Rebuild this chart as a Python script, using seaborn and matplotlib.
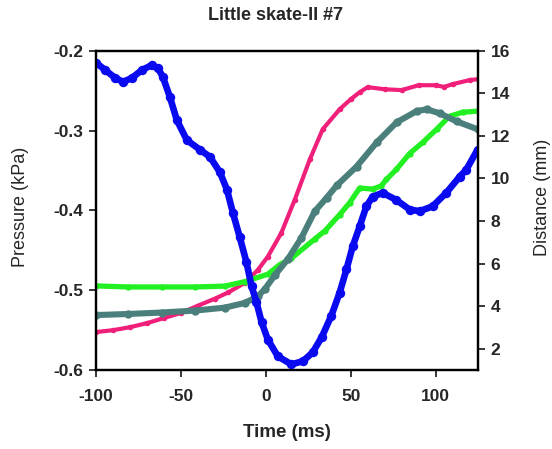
import seaborn as sns
import numpy as np
import pandas as pd
import matplotlib
matplotlib.use("Agg")
import matplotlib.pyplot as plt

# %%
title = "Little skate-II #7"

# pressure (left axis)
p_time = [-100.0, -94.7, -88.8, -84.1, -78.8, -72.9, -67.1, -63.5, -60.6, -56.5,
          -52.4, -46.5, -38.8, -32.9, -27.1, -22.9, -19.4, -15.3, -11.4, -8.4,
          -5.5, -2.5, 1.2, 7.1, 15.1, 21.8, 27.6, 32.9, 38.6, 43.5,
          47.5, 51.2, 55.3, 59.2, 62.9, 68.8, 76.9, 84.7, 90.6, 98.2,
          106.3, 114.1, 118.1, 124.7]
pressure = [-0.215, -0.224, -0.234, -0.239, -0.234, -0.224, -0.218, -0.222, -0.233, -0.258,
            -0.287, -0.312, -0.324, -0.333, -0.352, -0.374, -0.403, -0.434, -0.465, -0.495,
            -0.515, -0.540, -0.562, -0.583, -0.593, -0.589, -0.578, -0.559, -0.532, -0.503,
            -0.474, -0.445, -0.420, -0.395, -0.383, -0.378, -0.387, -0.399, -0.401, -0.395,
            -0.378, -0.358, -0.349, -0.324]

# distances (right axis)
pink_time = [-100, -90, -80, -70, -60, -50, -40, -30, -22, -12.4,
             -4.7, 1.2, 9.2, 17.1, 25.9, 33.5, 43.5, 50, 55.3, 60,
             70, 80, 90, 100, 105, 110, 120, 124.7]
pink_dist = [2.78, 2.87, 3.01, 3.20, 3.44, 3.68, 4.02, 4.35, 4.65, 5.09,
             5.70, 6.33, 7.45, 9.01, 10.89, 12.31, 13.25, 13.72, 14.05, 14.29,
             14.19, 14.15, 14.38, 14.38, 14.30, 14.43, 14.62, 14.66]

green_time = [-100, -81.2, -61.2, -41.8, -24.1, -12.4, 1.2, 8.2, 15.1, 28.8,
              35, 43.5, 49.4, 55.3, 62.9, 68, 71, 76.9, 84.7, 92.4,
              100.6, 108.2, 115.9, 124.7]
green_dist = [4.95, 4.90, 4.90, 4.90, 4.94, 5.15, 5.50, 5.95, 6.25, 7.15,
              7.55, 8.30, 8.86, 9.55, 9.50, 9.65, 9.95, 10.42, 11.17, 11.69,
              12.31, 12.92, 13.11, 13.16]

teal_time = [-100, -81.2, -61.2, -41.8, -24.1, -12.4, -4.7, -0.6, 5.3, 12.9,
             20.9, 28.8, 35.9, 41.8, 53.5, 65.3, 77.1, 88.8, 94.7, 102.4,
             112.4, 124.7]
teal_dist = [3.58, 3.63, 3.70, 3.79, 3.93, 4.15, 4.46, 4.80, 5.45, 6.20,
             7.20, 8.45, 9.10, 9.67, 10.56, 11.69, 12.64, 13.16, 13.25, 13.06,
             12.68, 12.31]

# %%
sns.set_style("ticks")
plt.rcParams["font.family"] = ["Liberation Sans", "DejaVu Sans"]
plt.rcParams["axes.unicode_minus"] = False

fig = plt.figure(figsize=(5.52, 4.49), dpi=100)
ax = fig.add_axes([0.174, 0.176, 0.692, 0.711])
ax2 = ax.twinx()

df_p = pd.DataFrame({"t": p_time, "v": pressure})
df_pink = pd.DataFrame({"t": pink_time, "v": pink_dist})
df_green = pd.DataFrame({"t": green_time, "v": green_dist})
df_teal = pd.DataFrame({"t": teal_time, "v": teal_dist})

sns.lineplot(data=df_pink, x="t", y="v", ax=ax2, color="#f0207a", lw=3,
             marker="o", markersize=4, markeredgewidth=0, sort=False)
sns.lineplot(data=df_green, x="t", y="v", ax=ax2, color="#22f022", lw=3.8,
             marker="o", markersize=4.5, markeredgewidth=0, sort=False)
sns.lineplot(data=df_teal, x="t", y="v", ax=ax2, color="#4a7f7c", lw=4.4,
             marker="o", markersize=6, markeredgewidth=0, sort=False)
sns.lineplot(data=df_p, x="t", y="v", ax=ax, color="#0a0af0", lw=4.8,
             marker="o", markersize=6.8, markeredgewidth=0, sort=False)

# pressure on top
ax.set_zorder(ax2.get_zorder() + 1)
ax.patch.set_visible(False)

ax.set_xlim(-100, 125)
ax.set_ylim(-0.6, -0.2)
ax2.set_ylim(1, 16)
ax.set_xticks([-100, -50, 0, 50, 100])
ax.set_yticks([-0.6, -0.5, -0.4, -0.3, -0.2])
ax.set_yticklabels(["-0.6", "-0.5", "-0.4", "-0.3", "-0.2"])
ax2.set_yticks([2, 4, 6, 8, 10, 12, 14, 16])

for a in (ax, ax2):
    for s in a.spines.values():
        s.set_linewidth(1.6)
        s.set_color("black")
    a.tick_params(direction="out", length=5, width=1.3, labelsize=12.5, pad=4)
    for lab in a.get_xticklabels() + a.get_yticklabels():
        lab.set_fontweight("bold")
ax.tick_params(axis="x", pad=9)

ax.set_xlabel("Time (ms)", fontsize=13.5, fontweight="bold", labelpad=14)
ax.set_ylabel("Pressure (kPa)", fontsize=13, va="center", ha="center")
ax2.set_ylabel("Distance (mm)", fontsize=13, va="center", ha="center")
ax.yaxis.set_label_coords(-0.199, 0.51)
ax2.yaxis.set_label_coords(1.17, 0.54)
fig.text(275 / 552, 1 - 16 / 449, title, fontsize=13, fontweight="bold",
         ha="center", va="center")

plt.savefig("out.png", dpi=100)
